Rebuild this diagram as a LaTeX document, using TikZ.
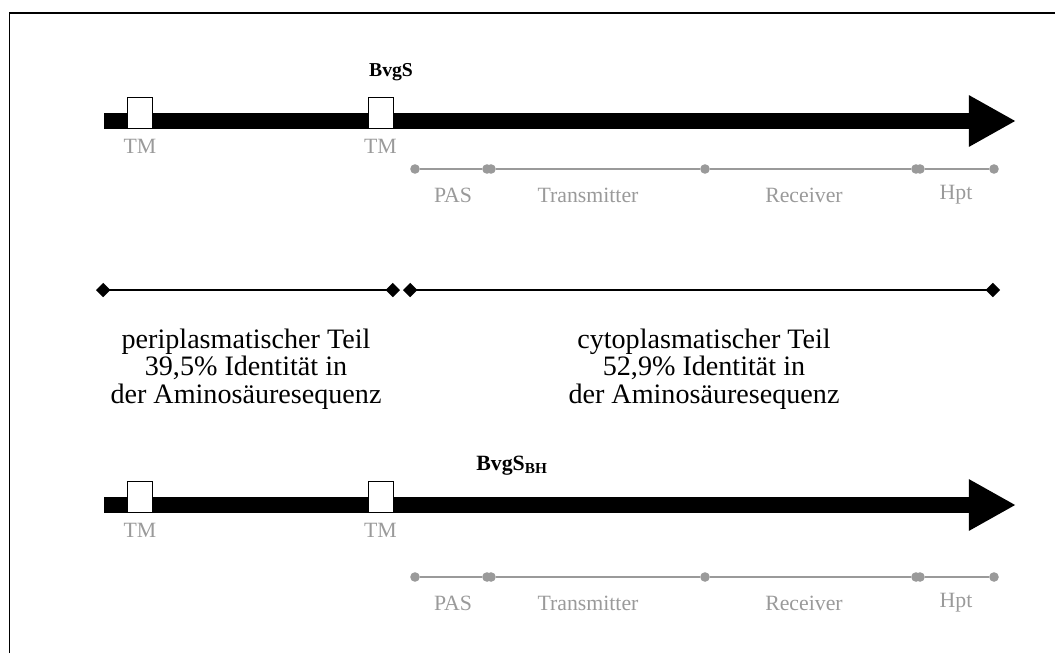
\documentclass[tikz,border=0pt]{standalone}
\usepackage{fontspec}
\setmainfont{Liberation Serif}
\usetikzlibrary{arrows.meta,positioning}
\definecolor{domgray}{HTML}{9A9A9A}

\begin{document}
\begin{tikzpicture}[x=0.025cm,y=-0.025cm,
  protein/.style={line width=0.4cm, -{Triangle[length=1.175cm,width=1.2cm]}},
  tmbox/.style={rectangle, draw, fill=white, line width=0.7pt, minimum width=0.625cm, minimum height=0.775cm, inner sep=0pt},
  tmlabel/.style={text=domgray, font=\fontsize{15.5}{15.5}\selectfont, inner sep=0pt},
  domdot/.style={circle, fill=domgray, minimum size=0.24cm, inner sep=0pt},
  domline/.style={domgray, line width=1.1pt},
  domlabel/.style={text=domgray, font=\fontsize{15.5}{15.5}\selectfont, inner sep=0pt},
  span/.style={line width=1.4pt, {Diamond[length=0.36cm,width=0.36cm]}-{Diamond[length=0.36cm,width=0.36cm]}},
  title/.style={font=\fontsize{14}{14}\selectfont\bfseries, inner sep=0pt},
  info/.style={align=center, font=\fontsize{20}{19.5}\selectfont, inner sep=0pt}
]
  \useasboundingbox (0,0) rectangle (1055,653);
  % open frame (left and top edge)
  \draw[line width=1.4pt] (9.5,653) |- (1055,13);

  % BvgS
  \node[title] (bvgs) at (391,72) {BvgS};
  \coordinate (s1) at (104,121);
  \coordinate (e1) at (1016,121);
  \draw[protein] (s1) -- (e1);
  \node[tmbox] (tm1a) at (140,112.5) {};
  \node[tmbox] (tm1b) at (380.5,112.5) {};
  \node[tmlabel] at (140,146) {TM};
  \node[tmlabel] at (380.5,146) {TM};

  % domains
  \node[domdot] (p1) at (415,169) {};
  \node[domdot] (p2) at (487,169) {};
  \node[domdot] (p3) at (491,169) {};
  \node[domdot] (p4) at (705,169) {};
  \node[domdot] (p5) at (916,169) {};
  \node[domdot] (p6) at (920,169) {};
  \node[domdot] (p7) at (994,169) {};
  \draw[domline] (p1) -- (p2) (p3) -- (p4) -- (p5) (p6) -- (p7);
  \node[domlabel] at (453,195) {PAS};
  \node[domlabel] at (588,195) {Transmitter};
  \node[domlabel] at (804,195) {Receiver};
  \node[domlabel] at (956,195) {Hpt};

  % periplasmic / cytoplasmic parts
  \coordinate (a1) at (96,290);
  \coordinate (a2) at (400,290);
  \coordinate (b1) at (403,290);
  \coordinate (b2) at (1000,290);
  \draw[span] (a1) -- (a2);
  \draw[span] (b1) -- (b2);
  \node[info] (peri) at (246,369) {periplasmatischer Teil\\39,5\% Identität in\\der Aminosäuresequenz};
  \node[info] (cyto) at (704,369) {cytoplasmatischer Teil\\52,9\% Identität in\\der Aminosäuresequenz};

  % BvgS_BH
  \node[title, font=\fontsize{15.5}{15.5}\selectfont\bfseries] (bvgsbh) at (512,466) {BvgS\textsubscript{BH}};
  \coordinate (s2) at (104,505);
  \coordinate (e2) at (1016,505);
  \draw[protein] (s2) -- (e2);
  \node[tmbox] (tm2a) at (140,496.5) {};
  \node[tmbox] (tm2b) at (380.5,496.5) {};
  \node[tmlabel] at (140,530) {TM};
  \node[tmlabel] at (380.5,530) {TM};

  \node[domdot] (q1) at (415,577) {};
  \node[domdot] (q2) at (487,577) {};
  \node[domdot] (q3) at (491,577) {};
  \node[domdot] (q4) at (705,577) {};
  \node[domdot] (q5) at (916,577) {};
  \node[domdot] (q6) at (920,577) {};
  \node[domdot] (q7) at (994,577) {};
  \draw[domline] (q1) -- (q2) (q3) -- (q4) -- (q5) (q6) -- (q7);
  \node[domlabel] at (453,603) {PAS};
  \node[domlabel] at (588,603) {Transmitter};
  \node[domlabel] at (804,603) {Receiver};
  \node[domlabel] at (956,603) {Hpt};
\end{tikzpicture}
\end{document}
